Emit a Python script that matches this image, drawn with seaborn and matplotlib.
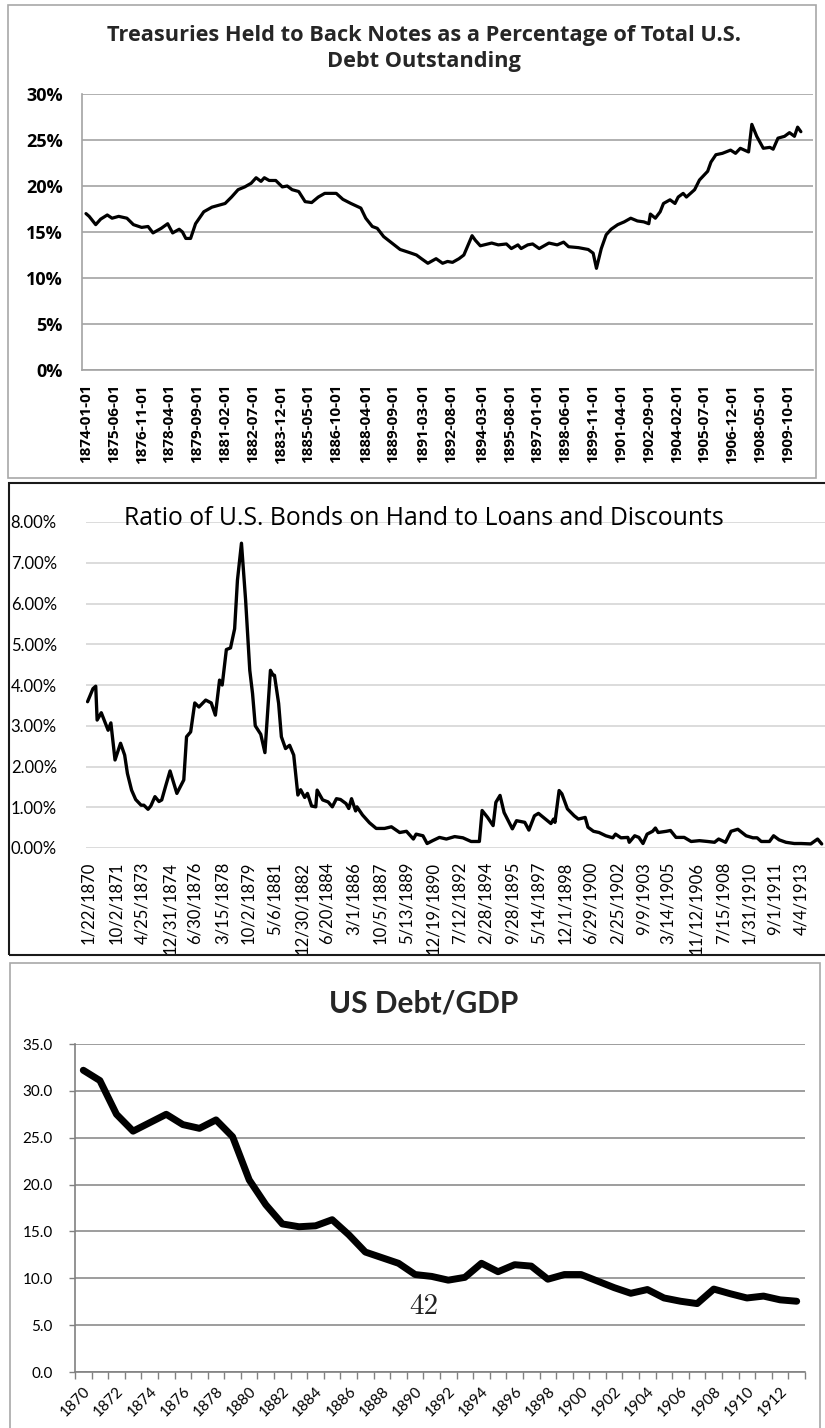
import numpy as np
import pandas as pd
import matplotlib
matplotlib.use("Agg")
import matplotlib.pyplot as plt
import seaborn as sns
from matplotlib.patches import Rectangle

# ---------------- Panel 1: Treasuries held to back notes (% of total debt) ----------------
p1_dates = ["1874-01","1874-03","1874-07","1874-10","1875-02","1875-05","1875-09","1876-02","1876-06","1876-11",
            "1877-03","1877-06","1877-11","1878-03","1878-06","1878-10","1878-12","1879-02","1879-05","1879-08",
            "1880-01","1880-06","1880-10","1881-02","1881-06","1881-10","1882-02","1882-06","1882-09","1882-12",
            "1883-02","1883-05","1883-09","1884-01","1884-04","1884-07","1884-11","1885-03","1885-07","1885-11",
            "1886-03","1886-10","1887-02","1887-07","1888-01","1888-04","1888-08","1888-11","1889-03","1889-08",
            "1890-01","1890-07","1890-11","1891-02","1891-06","1891-11","1892-03","1892-06","1892-09","1893-01",
            "1893-04","1893-09","1893-11","1894-02","1894-09","1895-01","1895-06","1895-09","1896-01","1896-03",
            "1896-07","1896-10","1897-02","1897-08","1898-01","1898-05","1898-08","1899-02","1899-08","1899-11",
            "1900-01","1900-04","1900-07","1900-10","1901-02","1901-06","1901-10","1902-02","1902-06","1902-09",
            "1902-10","1903-01","1903-04","1903-06","1903-10","1904-01","1904-03","1904-06","1904-08","1905-01",
            "1905-04","1905-09","1905-11","1906-02","1906-06","1906-11","1907-02","1907-05","1907-10","1907-12",
            "1908-03","1908-07","1908-11","1909-01","1909-04","1909-08","1909-11","1910-02","1910-04","1910-06"]
p1_values = [17.0,16.7,15.8,16.4,16.85,16.5,16.7,16.5,15.8,15.5,
             15.6,14.9,15.4,15.9,14.9,15.3,15.0,14.3,14.3,15.9,
             17.2,17.7,17.9,18.1,18.8,19.6,19.9,20.3,20.9,20.5,
             20.9,20.6,20.6,19.9,20.0,19.6,19.4,18.3,18.2,18.8,
             19.2,19.2,18.55,18.1,17.6,16.5,15.6,15.4,14.5,13.8,
             13.1,12.75,12.5,12.1,11.6,12.1,11.6,11.8,11.7,12.1,
             12.5,14.6,14.1,13.5,13.8,13.6,13.7,13.2,13.6,13.2,
             13.6,13.7,13.2,13.8,13.6,13.9,13.4,13.3,13.1,12.7,
             11.05,13.2,14.7,15.3,15.8,16.1,16.5,16.2,16.1,15.9,
             16.95,16.5,17.2,18.1,18.5,18.1,18.8,19.2,18.8,19.6,
             20.65,21.6,22.6,23.4,23.55,23.9,23.55,24.1,23.7,26.7,
             25.4,24.1,24.2,24.0,25.2,25.4,25.8,25.4,26.4,25.9]
p1_tick_labels = ["1874-01-01","1875-06-01","1876-11-01","1878-04-01","1879-09-01","1881-02-01",
                  "1882-07-01","1883-12-01","1885-05-01","1886-10-01","1888-04-01","1889-09-01",
                  "1891-03-01","1892-08-01","1894-03-01","1895-08-01","1897-01-01","1898-06-01",
                  "1899-11-01","1901-04-01","1902-09-01","1904-02-01","1905-07-01","1906-12-01",
                  "1908-05-01","1909-10-01"]
p1_yticks = [0, 5, 10, 15, 20, 25, 30]

# ---------------- Panel 2: Ratio of U.S. bonds on hand to loans and discounts (%) ----------------
p2_dates = ["1870-01","1870-05","1870-07","1870-08","1870-11","1871-04","1871-06","1871-09","1872-01","1872-04",
            "1872-06","1872-09","1872-12","1873-04","1873-06","1873-09","1873-11","1874-02","1874-05","1874-07",
            "1874-10","1875-01","1875-06","1875-11","1876-01","1876-04","1876-07","1876-10","1877-03","1877-07",
            "1877-10","1878-01","1878-03","1878-06","1878-09","1878-12","1879-02","1879-05","1879-08","1879-11",
            "1880-01","1880-03","1880-07","1880-10","1881-02","1881-04","1881-05","1881-08","1881-10","1882-01",
            "1882-04","1882-07","1882-10","1882-12","1883-03","1883-05","1883-08","1883-11","1883-12","1884-04",
            "1884-08","1884-11","1885-02","1885-05","1885-09","1885-11","1886-01","1886-04","1886-05","1886-09",
            "1887-02","1887-07","1888-01","1888-06","1888-12","1889-05","1889-10","1889-12","1890-05","1890-08",
            "1890-12","1891-05","1891-10","1892-04","1892-10","1893-04","1893-10","1893-12","1894-04","1894-08",
            "1894-10","1895-01","1895-04","1895-10","1896-01","1896-07","1896-10","1897-02","1897-05","1897-10",
            "1898-02","1898-04","1898-05","1898-08","1898-10","1899-02","1899-07","1899-10","1900-03","1900-05",
            "1900-09","1901-01","1901-06","1901-11","1902-01","1902-05","1902-10","1902-11","1903-03","1903-06",
            "1903-09","1903-12","1904-04","1904-06","1904-08","1905-02","1905-05","1905-09","1906-03","1906-08",
            "1907-02","1907-08","1908-01","1908-04","1908-09","1909-01","1909-06","1909-12","1910-05","1910-08",
            "1910-11","1911-05","1911-08","1911-12","1912-05","1912-11","1913-04","1913-11","1914-04","1914-07"]
p2_values = [3.59,3.91,3.97,3.14,3.32,2.89,3.07,2.16,2.57,2.28,
             1.83,1.42,1.19,1.05,1.05,0.95,1.03,1.26,1.14,1.18,
             1.54,1.89,1.34,1.67,2.73,2.85,3.56,3.46,3.63,3.56,
             3.26,4.12,4.0,4.87,4.91,5.38,6.57,7.48,6.08,4.36,
             3.79,3.0,2.79,2.34,4.36,4.24,4.24,3.55,2.73,2.44,
             2.52,2.28,1.30,1.43,1.24,1.34,1.03,1.01,1.42,1.18,
             1.13,1.01,1.21,1.19,1.09,0.97,1.21,0.91,1.01,0.81,
             0.62,0.48,0.48,0.52,0.38,0.41,0.22,0.34,0.30,0.11,
             0.18,0.26,0.22,0.28,0.25,0.16,0.16,0.92,0.75,0.55,
             1.12,1.29,0.87,0.47,0.67,0.63,0.44,0.79,0.85,0.71,
             0.60,0.71,0.63,1.41,1.33,0.96,0.79,0.71,0.75,0.51,
             0.41,0.38,0.30,0.25,0.34,0.25,0.26,0.14,0.30,0.26,
             0.11,0.34,0.41,0.49,0.38,0.41,0.43,0.26,0.26,0.16,
             0.18,0.16,0.14,0.22,0.14,0.41,0.46,0.30,0.25,0.25,
             0.16,0.16,0.30,0.20,0.14,0.11,0.11,0.10,0.22,0.10]
p2_tick_labels = ["1/22/1870","10/2/1871","4/25/1873","12/31/1874","6/30/1876","3/15/1878","10/2/1879",
                  "5/6/1881","12/30/1882","6/20/1884","3/1/1886","10/5/1887","5/13/1889","12/19/1890",
                  "7/12/1892","2/28/1894","9/28/1895","5/14/1897","12/1/1898","6/29/1900","2/25/1902",
                  "9/9/1903","3/14/1905","11/12/1906","7/15/1908","1/31/1910","9/1/1911","4/4/1913"]
p2_yticks = [0, 1, 2, 3, 4, 5, 6, 7, 8]

# ---------------- Panel 3: US Debt/GDP ----------------
p3_years = [1870,1871,1872,1873,1874,1875,1876,1877,1878,1879,1880,1881,1882,1883,1884,1885,1886,1887,
            1888,1889,1890,1891,1892,1893,1894,1895,1896,1897,1898,1899,1900,1901,1902,1903,1904,1905,
            1906,1907,1908,1909,1910,1911,1912,1913]
p3_values = [32.2,31.1,27.5,25.7,26.6,27.5,26.4,26.0,26.9,25.1,20.5,17.85,15.8,15.5,15.6,16.25,14.65,12.8,
             12.2,11.6,10.4,10.2,9.8,10.1,11.6,10.7,11.45,11.3,9.9,10.4,10.4,9.7,9.0,8.4,8.8,7.9,
             7.55,7.3,8.85,8.35,7.9,8.1,7.7,7.55]
p3_tick_labels = ["1870","1872","1874","1876","1878","1880","1882","1884","1886","1888","1890",
                  "1892","1894","1896","1898","1900","1902","1904","1906","1908","1910","1912"]
p3_yticks = [0, 5, 10, 15, 20, 25, 30, 35]

# ---------------- helpers ----------------
def frac_year(strings, fmt):
    d = pd.to_datetime(pd.Series(strings), format=fmt)
    return (d.dt.year + (d.dt.dayofyear - 1) / 365.25).to_numpy()

W, H = 825, 1428
sns.set_theme(style="white")
plt.rcParams["font.family"] = ["Lato", "DejaVu Sans"]
OPEN = ["Open Sans", "DejaVu Sans"]

fig = plt.figure(figsize=(W / 100, H / 100), dpi=100)
fig.patch.set_facecolor("white")

def ax_at(left, top, right, bottom):
    return fig.add_axes([left / W, 1 - bottom / H, (right - left) / W, (bottom - top) / H])

def frame(x0, y0, x1, y1, color, lw, z=5):
    fig.add_artist(Rectangle((x0 / W, 1 - y1 / H), (x1 - x0) / W, (y1 - y0) / H,
                             transform=fig.transFigure, fill=False, edgecolor=color,
                             linewidth=lw, zorder=z))

def fit_width(txts, target_px):
    r = fig.canvas.get_renderer()
    w = txts[0].get_window_extent(renderer=r).width
    k = target_px / w
    for t in txts:
        t.set_fontsize(t.get_fontsize() * k)

# ---------------- Panel 1 ----------------
ax1 = ax_at(82, 94, 813, 370)
x1 = frac_year(p1_dates, "%Y-%m")
sns.lineplot(x=x1, y=p1_values, ax=ax1, color="black", linewidth=2.3, estimator=None, sort=False)
ax1.set_xlim(1873.797, 1911.03)
ax1.set_ylim(0, 30)
ax1.set_yticks(p1_yticks)
ax1.set_yticklabels([f"{v}%" for v in p1_yticks], fontsize=13, fontweight="bold", color="black",
                    family=OPEN)
ax1.set_xticks(frac_year(p1_tick_labels, "%Y-%m-%d"))
ax1.set_xticklabels(p1_tick_labels, rotation=90, fontsize=11, fontweight="bold", color="black",
                    va="top", ha="center", family=OPEN)
ax1.tick_params(axis="both", length=0)
ax1.tick_params(axis="y", pad=14)
ax1.tick_params(axis="x", pad=10)
ax1.grid(axis="y", color="#a3a3a3", linewidth=1.2)
ax1.set_axisbelow(True)
for s in ["top", "right"]:
    ax1.spines[s].set_visible(False)
for s in ["left", "bottom"]:
    ax1.spines[s].set_color("#a3a3a3")
    ax1.spines[s].set_linewidth(1.2)
t1a = fig.text(424 / W, 1 - 36 / H, "Treasuries Held to Back Notes as a Percentage of Total U.S.",
               ha="center", va="center", fontsize=14, fontweight="bold", family=OPEN)
t1b = fig.text(424 / W, 1 - 61 / H, "Debt Outstanding", ha="center", va="center",
               fontsize=14, fontweight="bold", family=OPEN)
fit_width([t1a, t1b], 637)
frame(8, 5, 816, 478, "#a8a8a8", 1.2)

# ---------------- Panel 2 ----------------
ax2 = ax_at(86, 522, 825, 848)
x2 = frac_year(p2_dates, "%Y-%m")
sns.lineplot(x=x2, y=p2_values, ax=ax2, color="black", linewidth=2.4, estimator=None, sort=False)
ax2.set_xlim(1869.906, 1914.696)
ax2.set_ylim(0, 8)
ax2.set_yticks(p2_yticks)
ax2.set_yticklabels([f"{v:.2f}%" for v in p2_yticks], fontsize=12, color="black")
ax2.set_xticks(frac_year(p2_tick_labels, "%m/%d/%Y"))
ax2.set_xticklabels(p2_tick_labels, rotation=90, fontsize=12, color="black", va="top", ha="center")
ax2.tick_params(axis="both", length=0)
ax2.tick_params(axis="y", pad=21)
ax2.tick_params(axis="x", pad=10)
ax2.grid(axis="y", color="#d9d9d9", linewidth=1.3)
ax2.set_axisbelow(True)
for s in ax2.spines.values():
    s.set_visible(False)
ax2.set_facecolor("none")
t2 = fig.text(424 / W, 1 - 518 / H, "Ratio of U.S. Bonds on Hand to Loans and Discounts",
              ha="center", va="center", fontsize=15, color="black", family=OPEN)
fit_width([t2], 600)
# white band hides label overflow below the panel frame
fig.add_artist(Rectangle((0, 1 - 962 / H), 1, 7 / H, transform=fig.transFigure,
                         facecolor="white", edgecolor="none", zorder=4))
frame(9, 483, 840, 955, "#1a1a1a", 1.5)

# ---------------- Panel 3 ----------------
ax3 = ax_at(75, 1044, 805, 1372)
sns.lineplot(x=p3_years, y=p3_values, ax=ax3, color="black", linewidth=5.0, estimator=None, sort=False)
ax3.set_xlim(p3_years[0] - 0.5, p3_years[-1] + 0.5)
ax3.set_ylim(0, 35)
ax3.set_yticks(p3_yticks)
ax3.set_yticklabels([f"{v:.1f}" for v in p3_yticks], fontsize=11, color="black")
ax3.set_xticks([int(t) for t in p3_tick_labels])
ax3.set_xticklabels(p3_tick_labels, rotation=45, fontsize=11, color="black",
                    ha="right", va="top", rotation_mode="anchor")
ax3.set_xticks(np.array(p3_years + [p3_years[-1] + 1]) - 0.5, minor=True)
ax3.tick_params(axis="x", which="major", length=0, pad=9)
ax3.tick_params(axis="x", which="minor", length=5, width=1, color="#808080", direction="out", bottom=True)
ax3.tick_params(axis="y", length=4, width=1, color="#808080", direction="out", left=True, pad=12)
ax3.grid(axis="y", color="#8c8c8c", linewidth=1.2)
ax3.set_axisbelow(True)
for s in ["top", "right"]:
    ax3.spines[s].set_visible(False)
for s in ["left", "bottom"]:
    ax3.spines[s].set_color("#808080")
    ax3.spines[s].set_linewidth(1.2)
t3 = fig.text(424 / W, 1 - 1003 / H, "US Debt/GDP", ha="center", va="center",
              fontsize=18, fontweight="bold")
fit_width([t3], 189)
fig.text(424 / W, 1 - 1307 / H, "42", ha="center", va="center", fontsize=21,
         family=["cmr10", "DejaVu Serif"], color="#222222")
frame(10, 963, 820, 1440, "#a8a8a8", 1.2)

fig.savefig("out.png", dpi=100, facecolor="white")
